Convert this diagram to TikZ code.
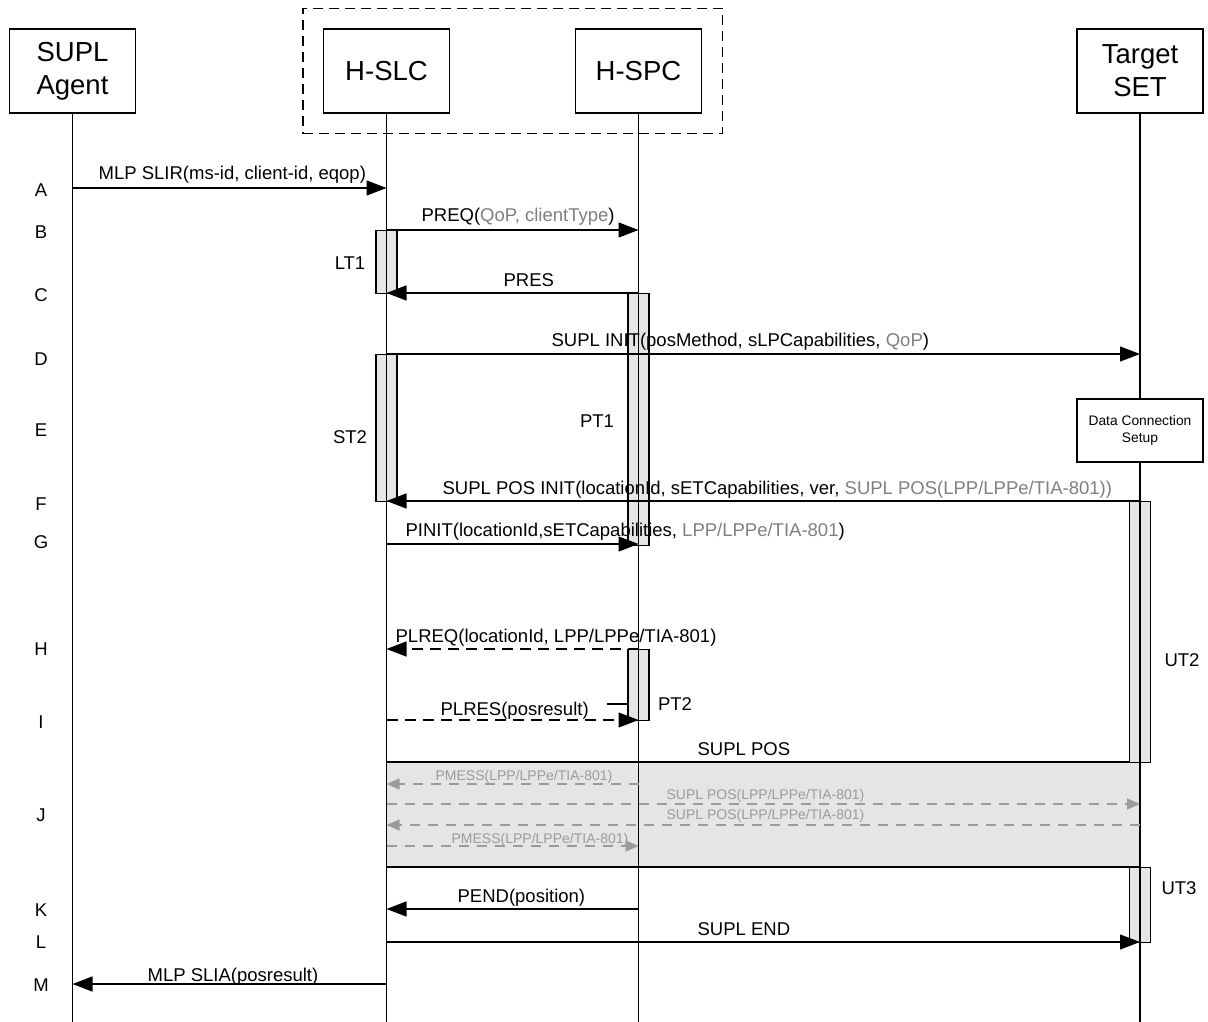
\documentclass[tikz,border=0pt]{standalone}
\usepackage{fontspec}
\setmainfont{Liberation Sans}
\usetikzlibrary{arrows.meta,positioning,fit}
\definecolor{boxgray}{RGB}{229,229,229}
\definecolor{optgray}{RGB}{128,128,128}
\definecolor{posgray}{RGB}{155,155,155}

\begin{document}
\begin{tikzpicture}[x=1pt, y=-1pt, line width=1.3pt,
    entity/.style={rectangle, draw, minimum width=126pt, minimum height=84pt, inner sep=0pt, align=center, font=\fontsize{27.5}{33}\selectfont},
    group/.style={rectangle, draw, dash pattern=on 10pt off 6pt, inner sep=20pt},
    active/.style={rectangle, draw, fill=boxgray, minimum width=21pt, inner sep=0pt, anchor=north},
    msg/.style={-{Triangle[length=20pt, width=15pt]}},
    dmsg/.style={msg, dash pattern=on 11pt off 7pt},
    pmsg/.style={-{Triangle[length=13pt, width=11pt]}, draw=posgray, dash pattern=on 10pt off 8pt},
    lbl/.style={anchor=base west, inner sep=0pt, font=\fontsize{18.5}{22}\selectfont},
    plbl/.style={anchor=base west, inner sep=0pt, text=posgray, font=\fontsize{14}{16}\selectfont},
    tlbl/.style={inner sep=0pt, font=\fontsize{18.5}{22}\selectfont},
    rowlbl/.style={inner sep=0pt, font=\fontsize{18.5}{22}\selectfont}]

\useasboundingbox (0,0) rectangle (1208,1022);

% entities
\node[entity] (agent) at (72.5,71) {SUPL\\Agent};
\node[entity] (slc) at (386.5,71) {H-SLC};
\node[entity] (spc) at (638.5,71) {H-SPC};
\node[entity] (set) at (1140,71) {Target\\SET};
\node[group, fit=(slc) (spc)] (hslp) {};
\coordinate (bottom) at (0,1022);

% message levels
\foreach \m/\y in {A/188, B/230, C/293, D/354, F/501, G/544, H/649, I/720, K/909, L/942, M/984,
                   J1/784, J2/804, J3/825, J4/846, Jt/762, Jb/867}
    \coordinate (m\m) at (0,\y);

% step letters
\foreach \r/\y in {A/190, B/232, C/295, D/359, E/430, F/504, G/542, H/649, I/722, J/815, K/910, L/942, M/985}
    \node[rowlbl] (row\r) at (41,\y) {\r};

% SUPL POS exchange
\draw[fill=boxgray] (slc |- mJt) rectangle (set |- mJb);

% timers
\node[active, minimum height=63pt] (lt1) at (slc |- mB) {};
\node[active, minimum height=252pt] (pt1) at (spc |- mC) {};
\node[active, minimum height=147pt] (st2) at (slc |- mD) {};
\node[active, minimum height=261pt] (ut2) at (set |- mF) {};
\node[active, minimum height=71pt] (pt2) at (spc |- mH) {};
\node[active, minimum height=75pt] (ut3) at (set |- mJb) {};

\node[tlbl] (lt1l) at (350,263) {LT1};
\node[tlbl] (st2l) at (350,437) {ST2};
\node[tlbl] (pt1l) at (597,421) {PT1};
\node[tlbl] (pt2l) at (675,704) {PT2};
\node[tlbl] (ut2l) at (1182,660) {UT2};
\node[tlbl] (ut3l) at (1179,888) {UT3};
\draw (pt2.west |- pt2l) -- ++(-20,0);

% lifelines
\draw (agent) -- (agent |- bottom);
\draw (slc) -- (slc |- bottom);
\draw (spc) -- (spc |- bottom);
\draw (set) -- (set |- bottom);

\node[rectangle, draw, fill=white, minimum width=126pt, minimum height=63pt, align=center,
      font=\fontsize{13.8}{17}\selectfont] (dcs) at (1140,430.5) {Data Connection\\Setup};

% messages
\draw[msg] (agent |- mA) -- (slc |- mA);
\node[lbl] (tA) at (98,179) {MLP SLIR(ms-id, client-id, eqop)};
\draw[msg] (slc |- mB) -- (spc |- mB);
\node[lbl] (tB) at (421,222) {PREQ(\textcolor{optgray}{QoP, clientType})};
\draw[msg] (spc |- mC) -- (slc |- mC);
\node[lbl] (tC) at (503,286) {PRES};
\draw[msg] (slc |- mD) -- (set |- mD);
\node[lbl] (tD) at (551,346) {SUPL INIT(posMethod, sLPCapabilities, \textcolor{optgray}{QoP})};
\draw[msg] (set |- mF) -- (slc |- mF);
\node[lbl] (tF) at (442,494) {SUPL POS INIT(locationId, sETCapabilities, ver, \textcolor{optgray}{SUPL POS(LPP/LPPe/TIA-801))}};
\draw[msg] (slc |- mG) -- (spc |- mG);
\node[lbl] (tG) at (405,536) {PINIT(locationId,sETCapabilities, \textcolor{optgray}{LPP/LPPe/TIA-801})};
\draw[dmsg] (spc |- mH) -- (slc |- mH);
\node[lbl] (tH) at (395,642) {PLREQ(locationId, LPP/LPPe/TIA-801)};
\draw[dmsg] (slc |- mI) -- (spc |- mI);
\node[lbl] (tI) at (440,715) {PLRES(posresult)};
\node[lbl] (tJ) at (697,755) {SUPL POS};
\draw[pmsg] (spc |- mJ1) -- (slc |- mJ1);
\node[plbl] (tJ1) at (435,780) {PMESS(LPP/LPPe/TIA-801)};
\draw[pmsg] (slc |- mJ2) -- (set |- mJ2);
\node[plbl] (tJ2) at (666,799) {SUPL POS(LPP/LPPe/TIA-801)};
\draw[pmsg] (set |- mJ3) -- (slc |- mJ3);
\node[plbl] (tJ3) at (666,819) {SUPL POS(LPP/LPPe/TIA-801)};
\draw[pmsg] (slc |- mJ4) -- (spc |- mJ4);
\node[plbl] (tJ4) at (451,843) {PMESS(LPP/LPPe/TIA-801)};
\draw[msg] (spc |- mK) -- (slc |- mK);
\node[lbl] (tK) at (457,902) {PEND(position)};
\draw[msg] (slc |- mL) -- (set |- mL);
\node[lbl] (tL) at (697,935) {SUPL END};
\draw[msg] (slc |- mM) -- (agent |- mM);
\node[lbl] (tM) at (147,981) {MLP SLIA(posresult)};

\end{tikzpicture}
\end{document}
